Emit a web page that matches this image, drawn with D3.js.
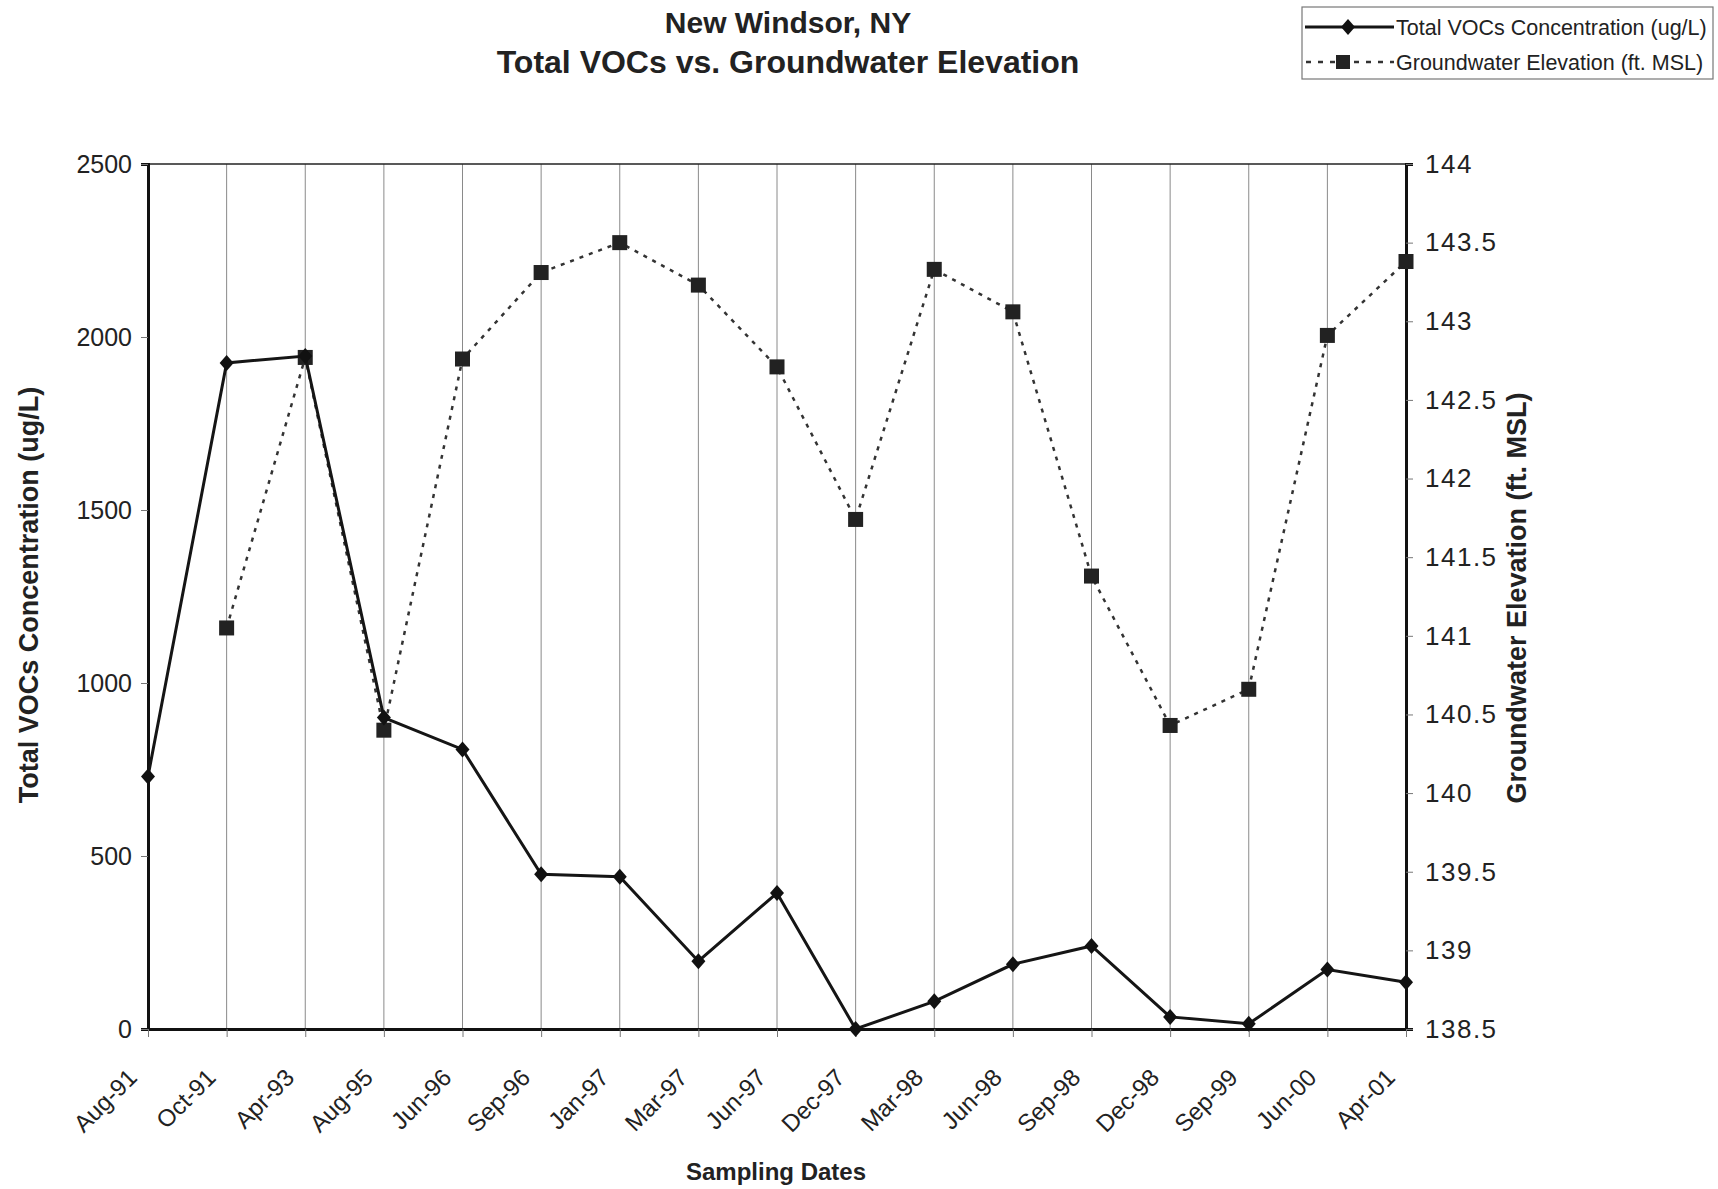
<!DOCTYPE html>
<html>
<head>
<meta charset="utf-8">
<script src="https://cdn.jsdelivr.net/npm/d3@7"></script>
<style>
  body { margin: 0; background: #fff; }
  svg { font-family: "Liberation Sans", Arial, sans-serif; }
</style>
</head>
<body>
<div id="chart"></div>
<script>
// sampling dates (x categories)
const dates = ["Aug-91", "Oct-91", "Apr-93", "Aug-95", "Jun-96", "Sep-96", "Jan-97", "Mar-97", "Jun-97",
  "Dec-97", "Mar-98", "Jun-98", "Sep-98", "Dec-98", "Sep-99", "Jun-00", "Apr-01"];
// Total VOCs (ug/L)
const vocs = [730, 1925, 1945, 900, 808, 447, 440, 196, 393, 0, 80, 187, 240, 35, 15, 172, 135];
// groundwater elevation (ft. MSL), no reading for Aug-91
const gwe = [null, 141.05, 142.77, 140.4, 142.76, 143.31, 143.5, 143.23, 142.71, 141.74,
  143.33, 143.06, 141.38, 140.43, 140.66, 142.91, 143.38];
const leftTicks = [0, 500, 1000, 1500, 2000, 2500];
const rightTicks = [138.5, 139, 139.5, 140, 140.5, 141, 141.5, 142, 142.5, 143, 143.5, 144];

const margin = { top: 164, right: 312, bottom: 160, left: 148 },
  width = 1718 - margin.left - margin.right,
  height = 1189 - margin.top - margin.bottom;

const root = d3.select("#chart").append("svg")
  .attr("width", 1718)
  .attr("height", 1189);

const svg = root.append("g")
  .attr("transform", `translate(${margin.left},${margin.top})`);

const x = d3.scalePoint().domain(dates).range([0, width]);
const yL = d3.scaleLinear().domain([0, 2500]).range([height, 0]);
const yR = d3.scaleLinear().domain([138.5, 144]).range([height, 0]);

// vertical gridlines
svg.append("g")
  .selectAll("line")
  .data(dates.slice(1, -1))
  .join("line")
  .attr("x1", (d) => x(d))
  .attr("x2", (d) => x(d))
  .attr("y1", 0)
  .attr("y2", height)
  .attr("stroke", "#8a8a8a")
  .attr("stroke-width", 1);

// top border
svg.append("line")
  .attr("x1", 0).attr("x2", width)
  .attr("y1", 0).attr("y2", 0)
  .attr("stroke", "#222").attr("stroke-width", 1.5);

// left axis
const gL = svg.append("g")
  .call(d3.axisLeft(yL).tickValues(leftTicks).tickSize(7).tickPadding(9).tickFormat(d3.format("d")));
gL.select(".domain").attr("stroke", "#111").attr("stroke-width", 3);
gL.selectAll(".tick line").attr("stroke", "#777");
gL.selectAll("text").style("font-size", "25px").attr("fill", "#222");

// right axis
const gR = svg.append("g")
  .attr("transform", `translate(${width},0)`)
  .call(d3.axisRight(yR).tickValues(rightTicks).tickSize(7).tickPadding(12).tickFormat(d3.format("")));
gR.select(".domain").attr("stroke", "#111").attr("stroke-width", 3);
gR.selectAll(".tick line").attr("stroke", "#777");
gR.selectAll("text").style("font-size", "26px").style("letter-spacing", "1.5px").attr("fill", "#222");

// bottom axis
const gB = svg.append("g")
  .attr("transform", `translate(0,${height})`)
  .call(d3.axisBottom(x).tickSize(8).tickSizeOuter(0));
gB.select(".domain").attr("stroke", "#111").attr("stroke-width", 3);
gB.selectAll(".tick line").attr("stroke", "#777");
gB.selectAll("text")
  .style("font-size", "24px")
  .attr("fill", "#222")
  .style("text-anchor", "end")
  .attr("x", 0)
  .attr("y", 0)
  .attr("dy", 0)
  .attr("transform", "translate(-10,50) rotate(-45)");

// groundwater elevation: dotted line + squares
const gwData = dates.map((d, i) => ({ d, v: gwe[i] })).filter((p) => p.v !== null);
svg.append("path")
  .datum(gwData)
  .attr("fill", "none")
  .attr("stroke", "#333")
  .attr("stroke-width", 2.5)
  .attr("stroke-dasharray", "4,6")
  .attr("d", d3.line().x((p) => x(p.d)).y((p) => yR(p.v)));

svg.append("g")
  .selectAll("rect")
  .data(gwData)
  .join("rect")
  .attr("x", (p) => x(p.d) - 7.5)
  .attr("y", (p) => yR(p.v) - 7.5)
  .attr("width", 15)
  .attr("height", 15)
  .attr("fill", "#222");

// VOCs: solid line + diamonds
const vData = dates.map((d, i) => ({ d, v: vocs[i] }));
svg.append("path")
  .datum(vData)
  .attr("fill", "none")
  .attr("stroke", "#151515")
  .attr("stroke-width", 3)
  .attr("d", d3.line().x((p) => x(p.d)).y((p) => yL(p.v)));

const diamond = "M0,-8L7,0L0,8L-7,0Z";
svg.append("g")
  .selectAll("path")
  .data(vData)
  .join("path")
  .attr("d", diamond)
  .attr("transform", (p) => `translate(${x(p.d)},${yL(p.v)})`)
  .attr("fill", "#111");

// titles
root.append("text")
  .attr("x", 788).attr("y", 33)
  .attr("text-anchor", "middle")
  .style("font-size", "30px").style("font-weight", "bold").attr("fill", "#222")
  .text("New Windsor, NY");
root.append("text")
  .attr("x", 788).attr("y", 73)
  .attr("text-anchor", "middle")
  .style("font-size", "32px").style("font-weight", "bold").attr("fill", "#222")
  .text("Total VOCs vs. Groundwater Elevation");

// axis titles
root.append("text")
  .attr("transform", "translate(38,595) rotate(-90)")
  .attr("text-anchor", "middle")
  .style("font-size", "27px").style("font-weight", "bold").attr("fill", "#222")
  .text("Total VOCs Concentration (ug/L)");
root.append("text")
  .attr("transform", "translate(1526,598) rotate(-90)")
  .attr("text-anchor", "middle")
  .style("font-size", "27px").style("font-weight", "bold").attr("fill", "#222")
  .text("Groundwater Elevation (ft. MSL)");
root.append("text")
  .attr("x", 776).attr("y", 1180)
  .attr("text-anchor", "middle")
  .style("font-size", "24px").style("font-weight", "bold").attr("fill", "#222")
  .text("Sampling Dates");

// legend
const legend = root.append("g").attr("transform", "translate(1302,7)");
legend.append("rect")
  .attr("width", 411).attr("height", 72)
  .attr("fill", "#fff").attr("stroke", "#777").attr("stroke-width", 1.2);
legend.append("line")
  .attr("x1", 3).attr("x2", 92).attr("y1", 20).attr("y2", 20)
  .attr("stroke", "#151515").attr("stroke-width", 3);
legend.append("path").attr("d", diamond).attr("transform", "translate(46,20)").attr("fill", "#111");
legend.append("text")
  .attr("x", 94).attr("y", 28)
  .style("font-size", "21.5px").attr("fill", "#222")
  .text("Total VOCs Concentration (ug/L)");
legend.append("line")
  .attr("x1", 4).attr("x2", 92).attr("y1", 55).attr("y2", 55)
  .attr("stroke", "#333").attr("stroke-width", 2.5).attr("stroke-dasharray", "5,7");
legend.append("rect").attr("x", 34).attr("y", 48).attr("width", 14).attr("height", 14).attr("fill", "#222");
legend.append("text")
  .attr("x", 94).attr("y", 63)
  .style("font-size", "21.5px").attr("fill", "#222")
  .text("Groundwater Elevation (ft. MSL)");
</script>
</body>
</html>
